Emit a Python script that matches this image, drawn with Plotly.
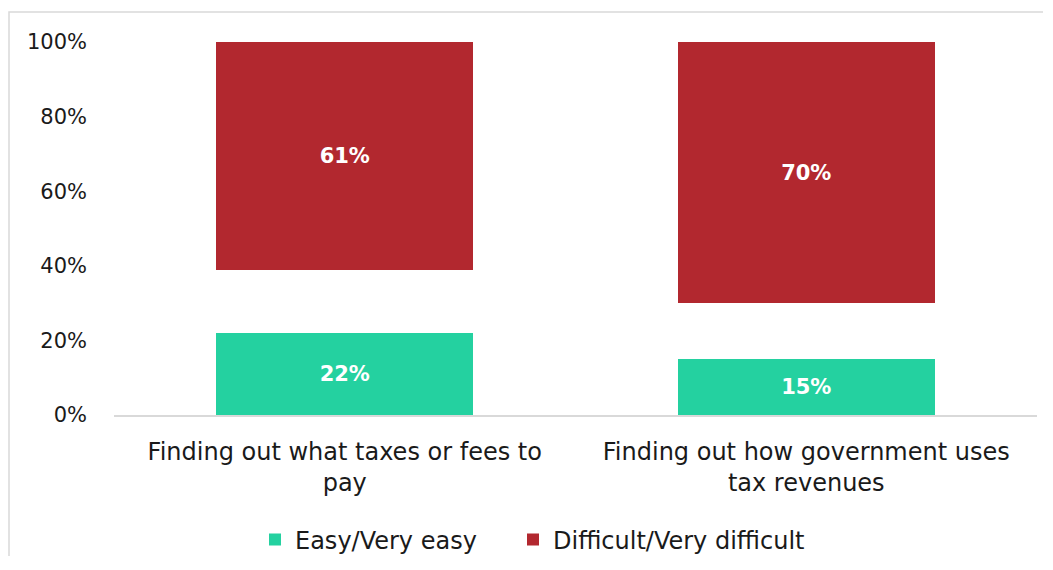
import plotly.graph_objects as go

categories = ["Finding out what taxes or fees to<br>pay",
              "Finding out how government uses<br>tax revenues"]
easy = [22, 15]
neither = [17, 15]
difficult = [61, 70]
tick_vals = [0, 20, 40, 60, 80, 100]
tick_text = ["0%", "20%", "40%", "60%", "80%", "100%"]

FONT = "'DejaVu Sans', sans-serif"
TXT = "#1a1a1a"

# page has an 8px body margin; figure origin sits at page (8, 8)
OFF = 8
W, H = 1035, 548
L, R, T, B = 106, 6, 34, 141
pw, ph = W - L - R, H - T - B


def px_x(p):
    return (p - OFF - L) / pw


def px_y(p):
    return (H - B - (p - OFF)) / ph


fig = go.Figure()
fig.add_trace(go.Bar(
    x=categories, y=easy, name="Easy/Very easy", legend="legend",
    marker=dict(color="#24D1A0", line=dict(width=0)),
    text=[f"{v}%" for v in easy], textposition="inside", insidetextanchor="middle",
    textfont=dict(color="white", size=21, family=FONT, weight="bold"),
    hoverinfo="skip",
))
fig.add_trace(go.Bar(
    x=categories, y=neither, name="Other",
    marker=dict(color="rgba(0,0,0,0)", line=dict(width=0)),
    showlegend=False, hoverinfo="skip",
))
fig.add_trace(go.Bar(
    x=categories, y=difficult, name="Difficult/Very difficult", legend="legend2",
    marker=dict(color="#B2282F", line=dict(width=0)),
    text=[f"{v}%" for v in difficult], textposition="inside", insidetextanchor="middle",
    textfont=dict(color="white", size=21, family=FONT, weight="bold"),
    hoverinfo="skip",
))

legend_common = dict(orientation="h", xanchor="left", y=px_y(540), yanchor="middle",
                     font=dict(size=24, color=TXT), itemwidth=30, itemsizing="constant",
                     bgcolor="rgba(0,0,0,0)")

fig.update_layout(
    barmode="stack",
    bargap=0.443,
    width=W, height=H,
    margin=dict(l=L, r=R, t=T, b=B, pad=0, autoexpand=False),
    paper_bgcolor="white", plot_bgcolor="white",
    font=dict(family=FONT, size=24, color=TXT),
    uniformtext=dict(minsize=10, mode="show"),
    showlegend=True,
    legend=dict(x=px_x(255), **legend_common),
    legend2=dict(x=px_x(513), **legend_common),
    xaxis=dict(showgrid=False, showline=True, linecolor="#d9d9d9", linewidth=1.5,
               ticks="", tickfont=dict(size=24, color=TXT), ticklabelstandoff=14,
               automargin=False),
    yaxis=dict(range=[0, 100], tickvals=tick_vals, ticktext=tick_text, showgrid=False,
               showline=False, zeroline=False, ticks="", ticklabelstandoff=26,
               tickfont=dict(size=21, color=TXT), automargin=False),
    shapes=[dict(type="rect", xref="paper", yref="paper",
                 x0=px_x(OFF + 1), x1=px_x(1070), y0=px_y(12), y1=px_y(600),
                 line=dict(color="#d9d9d9", width=1.5), fillcolor="rgba(0,0,0,0)",
                 layer="below")],
)

fig.write_html("out.html")
